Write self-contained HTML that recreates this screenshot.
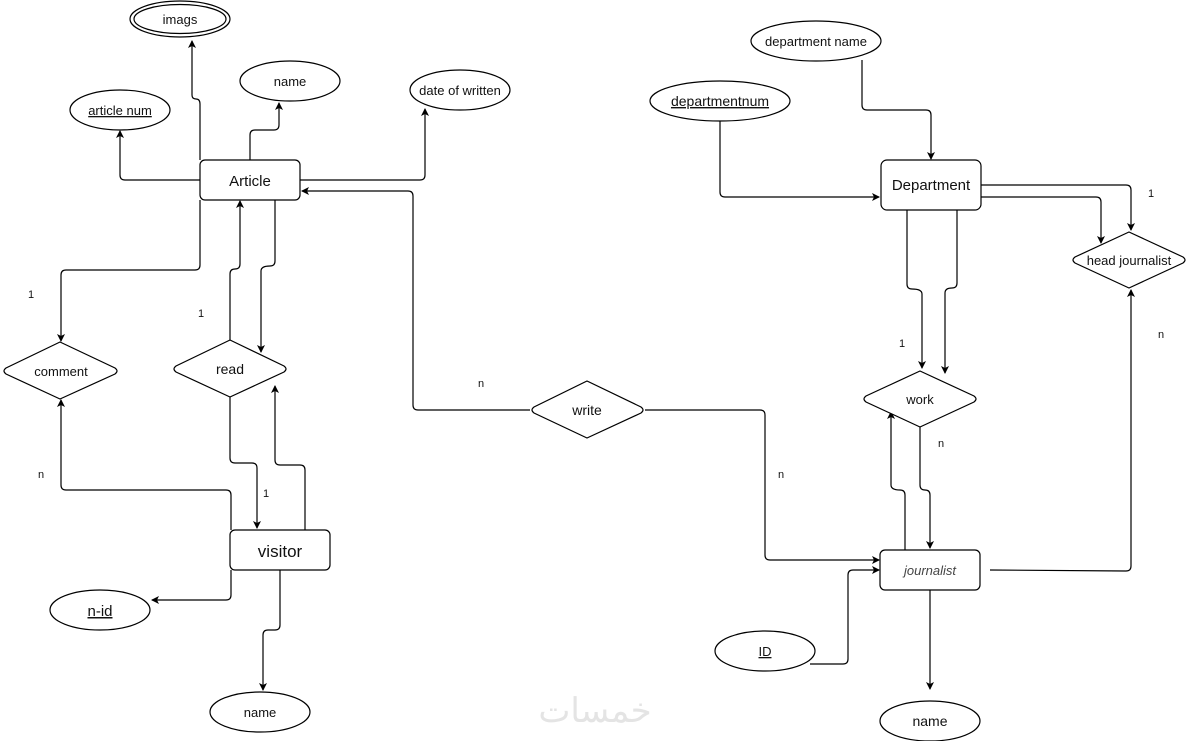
<!DOCTYPE html>
<html><head><meta charset="utf-8"><style>
html,body{margin:0;padding:0;background:#fff;}
svg{display:block;}
text{font-family:"Liberation Sans",Arial,sans-serif;fill:#111;}
</style></head><body>
<svg width="1191" height="741" viewBox="0 0 1191 741" xmlns="http://www.w3.org/2000/svg">
<defs>
<marker id="a" markerWidth="8" markerHeight="8" refX="7" refY="4" orient="auto" markerUnits="userSpaceOnUse">
<path d="M0,0 L8,4 L0,8 L2,4 Z" fill="#000"/>
</marker>
</defs>
<g fill="none" stroke="#000" stroke-width="1.2" marker-end="url(#a)">
<!-- Article attributes -->
<path d="M200,180 H125 Q120,180 120,175 V131"/>
<path d="M200,160 V104 Q200,99 196,99 Q192,99 192,95 V41"/>
<path d="M250,160 V135 Q250,130 255,130 H274 Q279,130 279,125 V103"/>
<path d="M300,180 H420 Q425,180 425,175 V109"/>
<!-- write to article -->
<path d="M530,410 H418 Q413,410 413,405 V196 Q413,191 408,191 H302"/>
<!-- article to comment -->
<path d="M200,200 V265 Q200,270 195,270 H66 Q61,270 61,275 V341"/>
<!-- read to article -->
<path d="M230,340 V274 Q230,269 235,269 Q240,269 240,264 V201"/>
<!-- article to read -->
<path d="M275,200 V261 Q275,266 270,266 Q261,266 261,271 V352"/>
<!-- read to visitor -->
<path d="M230,397 V458 Q230,463 235,463 H252 Q257,463 257,468 V528"/>
<!-- visitor to read -->
<path d="M305,530 V470 Q305,465 300,465 H280 Q275,465 275,460 V386"/>
<!-- visitor to comment -->
<path d="M231,530 V495 Q231,490 226,490 H66 Q61,490 61,485 V400"/>
<!-- visitor to n-id -->
<path d="M231,570 V595 Q231,600 226,600 H152"/>
<!-- visitor to name -->
<path d="M280,570 V625 Q280,630 275,630 H268 Q263,630 263,635 V690"/>
<!-- write to journalist -->
<path d="M645,410 H760 Q765,410 765,415 V555 Q765,560 770,560 H879"/>
<!-- dept attrs -->
<path d="M862,60 V105 Q862,110 867,110 H926 Q931,110 931,115 V159"/>
<path d="M720,120 V192 Q720,197 725,197 H879"/>
<!-- dept to head -->
<path d="M980,185 H1126 Q1131,185 1131,190 V230"/>
<path d="M980,197 H1096 Q1101,197 1101,202 V243"/>
<!-- dept to work -->
<path d="M907,210 V284 Q907,289 912,289 Q922,289 922,294 V368"/>
<path d="M957,210 V283 Q957,288 952,288 Q945,288 945,293 V373"/>
<!-- journalist to work -->
<path d="M905,550 V495 Q905,490 900,490 Q891,490 891,485 V412"/>
<!-- work to journalist -->
<path d="M920,427 V485 Q920,490 925,490 Q930,490 930,495 V548"/>
<!-- journalist to head -->
<path d="M990,570 L1126,571 Q1131,571 1131,566 V290"/>
<!-- ID to journalist -->
<path d="M810,664 H843 Q848,664 848,659 V575 Q848,570 853,570 H879"/>
<!-- journalist to name -->
<path d="M930,590 V689"/>
</g>
<g fill="#fff" stroke="#000" stroke-width="1.2">
<ellipse cx="180" cy="19" rx="50" ry="18"/>
<ellipse cx="180" cy="19" rx="46" ry="14.5"/>
<ellipse cx="290" cy="81" rx="50" ry="20"/>
<ellipse cx="120" cy="110" rx="50" ry="20"/>
<ellipse cx="460" cy="90" rx="50" ry="20"/>
<rect x="200" y="160" width="100" height="40" rx="5"/>
<path d="M60,342 L115,368 Q119,371 115,374 L60,399 L6,374 Q2,371 6,368 Z"/>
<path d="M230,340 L284,366 Q288,369 284,372 L230,397 L176,372 Q172,369 176,366 Z"/>
<path d="M587,381 L641,407 Q645,410 641,413 L587,438 L534,413 Q530,410 534,407 Z"/>
<rect x="230" y="530" width="100" height="40" rx="5"/>
<ellipse cx="100" cy="610" rx="50" ry="20"/>
<ellipse cx="260" cy="712" rx="50" ry="20"/>
<ellipse cx="816" cy="41" rx="65" ry="20"/>
<ellipse cx="720" cy="101" rx="70" ry="20"/>
<rect x="881" y="160" width="100" height="50" rx="6"/>
<path d="M1129,232 L1183,257 Q1187,260 1183,263 L1129,288 L1075,263 Q1071,260 1075,257 Z"/>
<path d="M920,371 L974,396 Q978,399 974,402 L920,427 L866,402 Q862,399 866,396 Z"/>
<rect x="880" y="550" width="100" height="40" rx="5"/>
<ellipse cx="765" cy="651" rx="50" ry="20"/>
<ellipse cx="930" cy="721" rx="50" ry="20"/>
</g>
<g font-size="13" text-anchor="middle">
<text x="180" y="24">imags</text>
<text x="290" y="86">name</text>
<text x="120" y="115" text-decoration="underline">article num</text>
<text x="460" y="95">date of written</text>
<text x="250" y="186" font-size="15">Article</text>
<text x="61" y="376">comment</text>
<text x="230" y="374" font-size="14">read</text>
<text x="587" y="415" font-size="14">write</text>
<text x="280" y="557" font-size="17">visitor</text>
<text x="100" y="616" font-size="15" text-decoration="underline">n-id</text>
<text x="260" y="717">name</text>
<text x="816" y="46">department name</text>
<text x="720" y="106" font-size="14" text-decoration="underline">departmentnum</text>
<text x="931" y="190" font-size="15">Department</text>
<text x="1129" y="265">head journalist</text>
<text x="920" y="404">work</text>
<text x="930" y="575" font-style="italic" fill="#444" style="fill:#444">journalist</text>
<text x="765" y="656" text-decoration="underline">ID</text>
<text x="930" y="726" font-size="14">name</text>
</g>
<g font-size="11" text-anchor="middle">
<text x="31" y="298">1</text>
<text x="201" y="317">1</text>
<text x="481" y="387">n</text>
<text x="41" y="478">n</text>
<text x="266" y="497">1</text>
<text x="781" y="478">n</text>
<text x="1151" y="197">1</text>
<text x="1161" y="338">n</text>
<text x="902" y="347">1</text>
<text x="941" y="447">n</text>
</g>
<text x="595" y="722" font-size="34" text-anchor="middle" style="fill:#e4e4e4" font-family="'Liberation Sans','DejaVu Sans',sans-serif">خمسات</text>
</svg>
</body></html>
